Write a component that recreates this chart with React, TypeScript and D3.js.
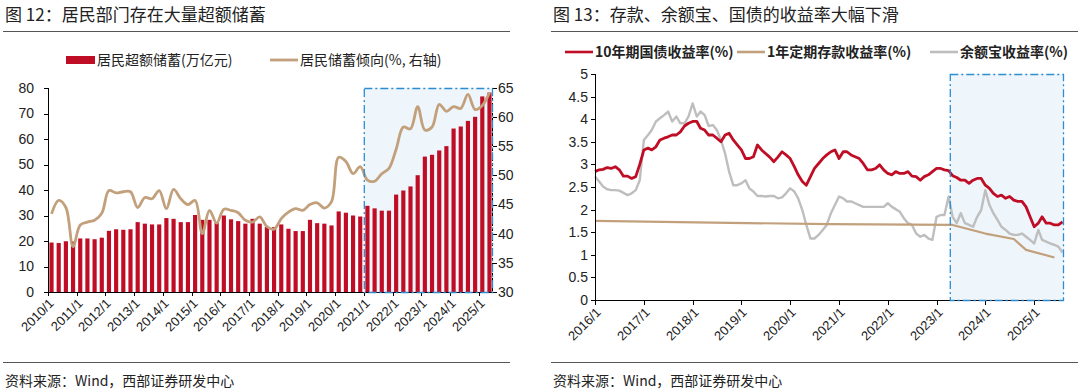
import React, { useEffect, useRef } from "react";
import * as d3 from "d3";

// 图12: quarterly, 2010Q1 .. 2025Q2
const quarterYears = d3.range(2010, 2026);
const excessSavings = [
  19.4, 19.2, 19.9, 19.8, 21.0, 21.0, 20.7, 21.3, 24.0, 24.6, 24.4, 24.6,
  27.4, 26.8, 26.5, 26.5, 29.0, 28.7, 27.4, 27.4, 30.2, 28.3, 28.3, 27.2,
  30.0, 28.5, 27.8, 26.8, 28.7, 26.8, 25.5, 25.5, 26.5, 24.8, 23.9, 23.9,
  28.3, 27.0, 26.8, 26.1, 31.6, 31.1, 30.0, 29.6, 33.8, 32.8, 31.9, 31.9,
  38.2, 39.8, 41.4, 45.8, 53.1, 53.8, 55.5, 57.2, 64.1, 64.9, 67.1, 68.7,
  76.7, 78.2,
];
const savingsRate = [
  43.4, 45.7, 44.5, 37.8, 41.5, 42.0, 42.3, 43.5, 47.4, 47.0, 47.2, 47.2,
  44.5, 46.2, 46.0, 47.4, 44.3, 47.6, 46.0, 45.0, 45.7, 40.0, 44.0, 41.8,
  44.2, 44.0, 43.6, 42.3, 42.0, 42.9, 41.2, 40.8, 42.6, 43.7, 44.3, 44.0,
  45.0, 45.3, 44.4, 45.5, 53.1, 52.4, 50.3, 51.5, 49.2, 49.0, 50.3, 51.2,
  54.5, 58.3, 58.0, 61.8, 57.8, 58.3, 62.2, 61.0, 61.8, 61.5, 63.9, 61.3,
  62.0, 64.2,
];
const leftTicks = [0, 10, 20, 30, 40, 50, 60, 70, 80];
const rightTicks = [30, 35, 40, 45, 50, 55, 60, 65];

// 图13: monthly from 2016/1 to 2025/8
const tenYearYield = [
  2.84, 2.88, 2.89, 2.93, 2.91, 2.95, 2.88, 2.74, 2.74, 2.69, 2.73, 3.0,
  3.32, 3.36, 3.32, 3.39, 3.54, 3.58, 3.61, 3.65, 3.65, 3.72, 3.85, 3.91,
  3.95, 3.95, 3.8, 3.76, 3.65, 3.65, 3.58, 3.5, 3.65, 3.69, 3.54, 3.43,
  3.32, 3.13, 3.13, 3.17, 3.43, 3.32, 3.24, 3.16, 3.06, 3.16, 3.28, 3.21,
  3.13, 2.95, 2.77, 2.62, 2.54, 2.73, 2.91, 3.02, 3.13, 3.21, 3.28, 3.32,
  3.13, 3.28, 3.28, 3.21, 3.17, 3.13, 3.02, 2.88, 2.88, 2.91, 2.99, 2.88,
  2.8, 2.77, 2.84, 2.8, 2.8, 2.84, 2.74, 2.73, 2.65, 2.73, 2.77, 2.84,
  2.91, 2.91, 2.88, 2.86, 2.75, 2.71, 2.65, 2.65, 2.58, 2.65, 2.69, 2.69,
  2.54, 2.47, 2.36, 2.29, 2.32, 2.25, 2.29, 2.21, 2.18, 2.18, 2.06, 1.84,
  1.62, 1.7, 1.84, 1.7, 1.7, 1.66, 1.66, 1.73,
];
const yuebaoYield = [
  2.73, 2.62, 2.51, 2.45, 2.43, 2.43, 2.42, 2.37, 2.32, 2.36, 2.43, 2.65,
  3.54, 3.65, 3.76, 3.95, 4.02, 4.09, 4.17, 3.95, 4.06, 3.91, 3.91, 4.06,
  4.35, 4.06, 4.17, 4.09, 3.85, 3.87, 3.76, 3.54, 3.24, 2.84, 2.54, 2.54,
  2.58, 2.65, 2.47, 2.4, 2.3, 2.3, 2.29, 2.3, 2.3, 2.25, 2.27, 2.36,
  2.47, 2.4, 2.25, 1.99, 1.66, 1.36, 1.36, 1.44, 1.55, 1.66, 1.92, 2.1,
  2.29, 2.25, 2.18, 2.18, 2.14, 2.1, 2.06, 2.06, 2.06, 2.06, 2.06, 2.06,
  2.14, 2.06, 2.01, 1.95, 1.81, 1.7, 1.66, 1.47, 1.4, 1.44, 1.36, 1.33,
  1.84, 1.88, 1.88, 2.29, 1.84, 1.7, 1.92, 1.7, 1.66, 1.62, 1.84, 1.99,
  2.43, 2.1, 1.92, 1.77, 1.62, 1.55, 1.47, 1.44, 1.44, 1.47, 1.4, 1.33,
  1.25, 1.55, 1.33, 1.29, 1.25, 1.22, 1.18, 1.05,
];
// 1-year deposit rate, read at its bends (month index from 2016/1)
const depositMonths = [0, 29, 58, 88, 96, 103, 106, 113];
const depositYield = [1.75, 1.71, 1.68, 1.66, 1.47, 1.35, 1.11, 0.94];
const rateTicks = [0, 0.5, 1, 1.5, 2, 2.5, 3, 3.5, 4, 4.5, 5];
const rateYears = d3.range(2016, 2026);

const RED = "#C00D26";
const TAN = "#C2A07C";
const GREY = "#BEBEBE";
const BLUE = "#2B8ED3";
const SHADE = "#EEF5FB";
const FONT = "'Liberation Sans', Arial, 'Noto Sans CJK SC', sans-serif";
const CJK = "'Noto Sans CJK SC', 'Liberation Sans', sans-serif";

const App = () => {
  const svgRef = useRef<SVGSVGElement | null>(null);

  useEffect(() => {
    document.body.style.margin = "0";
    const svg = d3
      .select(svgRef.current)
      .attr("width", 1080)
      .attr("height", 392)
      .style("display", "block")
      .style("background", "#fff");
    svg.selectAll("*").remove();

    // ---------- headers / footers ----------
    const header = (x: number, w: number, title: string) => {
      svg
        .append("text")
        .attr("x", x)
        .attr("y", 21)
        .attr("font-family", CJK)
        .attr("font-size", 17)
        .attr("fill", "#222")
        .text(title);
      svg
        .append("line")
        .attr("x1", x - 2)
        .attr("x2", x - 2 + w)
        .attr("y1", 31.5)
        .attr("y2", 31.5)
        .attr("stroke", "#555")
        .attr("stroke-width", 1);
      svg
        .append("line")
        .attr("x1", x - 2)
        .attr("x2", x - 2 + w)
        .attr("y1", 362.5)
        .attr("y2", 362.5)
        .attr("stroke", "#555")
        .attr("stroke-width", 1);
      svg
        .append("text")
        .attr("x", x)
        .attr("y", 386)
        .attr("font-family", CJK)
        .attr("font-size", 14)
        .attr("fill", "#222")
        .text("资料来源：Wind，西部证券研发中心");
    };
    header(5, 507, "图 12：居民部门存在大量超额储蓄");
    header(553, 527, "图 13：存款、余额宝、国债的收益率大幅下滑");

    // ---------- chart 12 ----------
    const L = { left: 48, right: 493, top: 88, bottom: 292 };
    const cats = excessSavings.map((_, i) => i);
    const xb = d3
      .scaleBand<number>()
      .domain(cats)
      .range([L.left, L.right])
      .paddingInner(0.42)
      .paddingOuter(0.2);
    const yL = d3.scaleLinear().domain([0, 80]).range([L.bottom, L.top]);
    const yR = d3.scaleLinear().domain([30, 65]).range([L.bottom, L.top]);
    const catStart = (i: number) => L.left + i * ((L.right - L.left) / cats.length);

    const g1 = svg.append("g");
    const boxX = catStart(44);
    g1.append("rect")
      .attr("x", boxX)
      .attr("y", L.top)
      .attr("width", L.right - boxX)
      .attr("height", L.bottom - L.top)
      .attr("fill", SHADE);

    g1.selectAll("rect.bar")
      .data(excessSavings)
      .join("rect")
      .attr("class", "bar")
      .attr("x", (_, i) => xb(i)!)
      .attr("width", xb.bandwidth())
      .attr("y", (d) => yL(d))
      .attr("height", (d) => L.bottom - yL(d))
      .attr("fill", RED);

    const rateLine = d3
      .line<number>()
      .x((_, i) => xb(i)! + xb.bandwidth() / 2)
      .y((d) => yR(d))
      .curve(d3.curveCatmullRom.alpha(0.5));
    g1.append("path")
      .attr("d", rateLine(savingsRate))
      .attr("fill", "none")
      .attr("stroke", TAN)
      .attr("stroke-width", 2.8)
      .attr("stroke-linejoin", "round");

    // axes
    const ax1 = g1.append("g").attr("stroke", "#000").attr("stroke-width", 1);
    ax1.append("line").attr("x1", L.left + 0.5).attr("x2", L.left + 0.5).attr("y1", L.top).attr("y2", L.bottom);
    ax1.append("line").attr("x1", L.right - 0.5).attr("x2", L.right - 0.5).attr("y1", L.top).attr("y2", L.bottom).attr("stroke-dasharray", "3,2");
    ax1.append("line").attr("x1", L.left).attr("x2", L.right).attr("y1", L.bottom + 0.5).attr("y2", L.bottom + 0.5);
    leftTicks.forEach((t) => {
      ax1.append("line").attr("x1", L.left - 4).attr("x2", L.left).attr("y1", Math.round(yL(t)) + 0.5).attr("y2", Math.round(yL(t)) + 0.5);
      g1.append("text")
        .attr("x", 34)
        .attr("y", yL(t))
        .attr("dy", "0.35em")
        .attr("text-anchor", "end")
        .attr("font-family", FONT)
        .attr("font-size", 14)
        .attr("fill", "#222")
        .text(t);
    });
    rightTicks.forEach((t) => {
      ax1.append("line").attr("x1", L.right).attr("x2", L.right + 4).attr("y1", Math.round(yR(t)) + 0.5).attr("y2", Math.round(yR(t)) + 0.5);
      g1.append("text")
        .attr("x", 498)
        .attr("y", yR(t))
        .attr("dy", "0.35em")
        .attr("font-family", FONT)
        .attr("font-size", 14)
        .attr("fill", "#222")
        .text(t);
    });
    quarterYears.forEach((yr, k) => {
      const x = Math.round(catStart(k * 4)) + 0.5;
      ax1.append("line").attr("x1", x).attr("x2", x).attr("y1", L.bottom).attr("y2", L.bottom + 4);
      g1.append("text")
        .attr("transform", `translate(${x + 3},${L.bottom + 9}) rotate(-45)`)
        .attr("text-anchor", "end")
        .attr("dy", "0.35em")
        .attr("font-family", FONT)
        .attr("font-size", 13)
        .attr("fill", "#222")
        .text(`${yr}/1`);
    });

    g1.append("rect")
      .attr("x", boxX + 0.5)
      .attr("y", L.top + 0.5)
      .attr("width", L.right - boxX - 1)
      .attr("height", L.bottom - L.top)
      .attr("fill", "none")
      .attr("stroke", BLUE)
      .attr("stroke-width", 1.3)
      .attr("stroke-dasharray", "8,3,2,3");

    // legend
    g1.append("rect").attr("x", 66).attr("y", 56).attr("width", 29).attr("height", 8).attr("fill", RED);
    g1.append("text").attr("x", 97).attr("y", 60).attr("dy", "0.36em").attr("font-family", CJK).attr("font-size", 14).attr("fill", "#222").text("居民超额储蓄(万亿元)");
    g1.append("line").attr("x1", 270).attr("x2", 298).attr("y1", 60).attr("y2", 60).attr("stroke", TAN).attr("stroke-width", 2.8);
    g1.append("text").attr("x", 300).attr("y", 60).attr("dy", "0.36em").attr("font-family", CJK).attr("font-size", 14).attr("fill", "#222").text("居民储蓄倾向(%, 右轴)");

    // ---------- chart 13 ----------
    const R = { left: 595, right: 1064, top: 74, bottom: 300 };
    const x2 = d3
      .scaleTime()
      .domain([new Date(2016, 0, 1), new Date(2025, 7, 12)])
      .range([R.left, R.right]);
    const y2 = d3.scaleLinear().domain([0, 5]).range([R.bottom, R.top]);
    const monthDate = (m: number) => new Date(2016, m, 1);

    const g2 = svg.append("g");
    const box2 = x2(new Date(2023, 3, 10));
    g2.append("rect")
      .attr("x", box2)
      .attr("y", R.top)
      .attr("width", R.right - box2)
      .attr("height", R.bottom - R.top)
      .attr("fill", SHADE);

    const line2 = d3
      .line<[number, number]>()
      .x((d) => x2(monthDate(d[0])))
      .y((d) => y2(d[1]));
    const draw = (pts: [number, number][], color: string, w: number) =>
      g2.append("path")
        .attr("d", line2(pts))
        .attr("fill", "none")
        .attr("stroke", color)
        .attr("stroke-width", w)
        .attr("stroke-linejoin", "round");
    draw(yuebaoYield.map((v, i) => [i, v] as [number, number]), GREY, 2.4);
    draw(depositYield.map((v, i) => [depositMonths[i], v] as [number, number]), TAN, 2.2);
    draw(tenYearYield.map((v, i) => [i, v] as [number, number]), RED, 2.8);

    const ax2 = g2.append("g").attr("stroke", "#000").attr("stroke-width", 1);
    ax2.append("line").attr("x1", R.left + 0.5).attr("x2", R.left + 0.5).attr("y1", R.top).attr("y2", R.bottom);
    ax2.append("line").attr("x1", R.left).attr("x2", R.right).attr("y1", R.bottom + 0.5).attr("y2", R.bottom + 0.5);
    rateTicks.forEach((t) => {
      ax2.append("line").attr("x1", R.left - 4).attr("x2", R.left).attr("y1", Math.round(y2(t)) + 0.5).attr("y2", Math.round(y2(t)) + 0.5);
      g2.append("text")
        .attr("x", 588)
        .attr("y", y2(t))
        .attr("dy", "0.35em")
        .attr("text-anchor", "end")
        .attr("font-family", FONT)
        .attr("font-size", 14)
        .attr("fill", "#222")
        .text(t);
    });
    rateYears.forEach((yr) => {
      const x = Math.round(x2(new Date(yr, 0, 1))) + 0.5;
      ax2.append("line").attr("x1", x).attr("x2", x).attr("y1", R.bottom).attr("y2", R.bottom + 5);
      g2.append("text")
        .attr("transform", `translate(${x + 3},${R.bottom + 10}) rotate(-45)`)
        .attr("text-anchor", "end")
        .attr("dy", "0.35em")
        .attr("font-family", FONT)
        .attr("font-size", 13)
        .attr("fill", "#222")
        .text(`${yr}/1`);
    });

    g2.append("rect")
      .attr("x", box2 + 0.5)
      .attr("y", R.top + 0.5)
      .attr("width", R.right - box2 - 1)
      .attr("height", R.bottom - R.top)
      .attr("fill", "none")
      .attr("stroke", BLUE)
      .attr("stroke-width", 1.3)
      .attr("stroke-dasharray", "8,3,2,3");

    // legend
    const leg = [
      { x: 565, color: RED, label: "10年期国债收益率(%)" },
      { x: 737, color: TAN, label: "1年定期存款收益率(%)" },
      { x: 930, color: GREY, label: "余额宝收益率(%)" },
    ];
    leg.forEach((l) => {
      g2.append("line").attr("x1", l.x).attr("x2", l.x + 28).attr("y1", 52).attr("y2", 52).attr("stroke", l.color).attr("stroke-width", 2.6);
      g2.append("text")
        .attr("x", l.x + 30)
        .attr("y", 52)
        .attr("dy", "0.36em")
        .attr("font-family", CJK)
        .attr("font-size", 14)
        .attr("font-weight", "bold")
        .attr("fill", "#222")
        .text(l.label);
    });

    return () => {
      svg.selectAll("*").remove();
    };
  }, []);

  return <svg ref={svgRef}></svg>;
};

export default App;
